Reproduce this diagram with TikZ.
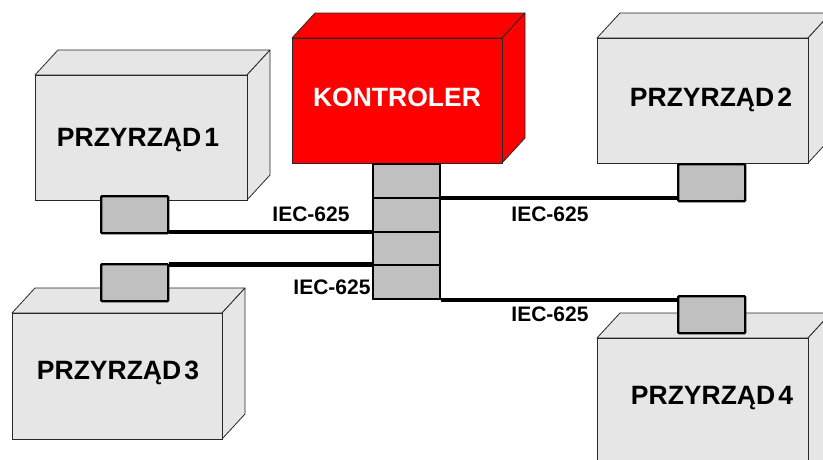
\documentclass[tikz,border=0pt]{standalone}
\usepackage{fontspec}
\setmainfont{Liberation Sans}
\definecolor{boxfill}{RGB}{230,230,230}
\definecolor{portfill}{RGB}{192,192,192}
\definecolor{edgec}{RGB}{40,40,40}
\newcommand\drawcube[5]{%
  \filldraw[fill=#5, draw=edgec, line width=0.8pt, line join=round]
    (#1,#2) -- ++(23,-25) -- ({#3+23},{#2-25}) -- (#3,#2) -- cycle;
  \filldraw[fill=#5, draw=edgec, line width=0.8pt, line join=round]
    (#3,#2) -- ++(23,-25) -- ({#3+23},{#4-25}) -- (#3,#4) -- cycle;
  \filldraw[fill=#5, draw=edgec, line width=0.8pt] (#1,#2) rectangle (#3,#4);
}
\tikzset{
  port/.style={draw=black, fill=portfill, line width=2.4pt, rounded corners=1pt,
    minimum width=67pt, minimum height=37pt, inner sep=0pt, anchor=north west},
  cell/.style={draw=black, fill=portfill, line width=2pt,
    minimum width=67pt, minimum height=33.75pt, inner sep=0pt, anchor=north west},
  wire/.style={line width=4.6pt, black},
  devtxt/.style={font=\fontsize{26.5}{30}\selectfont\bfseries, text=black, inner sep=0pt},
  lbl/.style={font=\fontsize{21}{24}\selectfont\bfseries, text=black, inner sep=0pt}
}
\begin{document}
\begin{tikzpicture}[x=1pt,y=-1pt]
\useasboundingbox (0,0) rectangle (823,459);
\clip (0,0) rectangle (823,459);
% devices
\drawcube{35}{75}{247}{200}{boxfill}
\drawcube{12}{313}{222}{439}{boxfill}
\drawcube{597}{38}{808}{163}{boxfill}
\drawcube{597}{338}{808}{480}{boxfill}
\drawcube{292}{38}{502}{163}{red}
% texts
\node[devtxt] (t1) at (138,140) {PRZYRZĄD\kern3pt 1};
\node[devtxt] (t2) at (711,100) {PRZYRZĄD\kern3pt 2};
\node[devtxt] (t3) at (118,373) {PRZYRZĄD\kern3pt 3};
\node[devtxt] (t4) at (712,398) {PRZYRZĄD\kern3pt 4};
\node[devtxt, text=white] (tk) at (397,97) {KONTROLER};
% stack
\node[cell] (s1) at (372,163) {};
\node[cell] (s2) at (372,196.75) {};
\node[cell] (s3) at (372,230.5) {};
\node[cell] (s4) at (372,264.25) {};
% ports
\node[port] (c1) at (100,195) {};
\node[port] (c2) at (677,163) {};
\node[port] (c3) at (100,263) {};
\node[port] (c4) at (677,295) {};
% wires
\draw[wire] ([yshift=-1.5pt]s3.north west) -- ([yshift=-1.5pt]s3.north west -| c1.east);
\draw[wire] (s4.north west) -- (s4.north west -| c3.east);
\draw[wire] ([yshift=-1.25pt]s2.north east) -- ([yshift=-1.25pt]s2.north east -| c2.west);
\draw[wire] (s4.south east) -- (s4.south east -| c4.west);
% labels
\node[lbl] (l1) at (311,214) {IEC-625};
\node[lbl] (l2) at (332,287) {IEC-625};
\node[lbl] (l3) at (550,214) {IEC-625};
\node[lbl] (l4) at (550,314) {IEC-625};
\end{tikzpicture}
\end{document}
